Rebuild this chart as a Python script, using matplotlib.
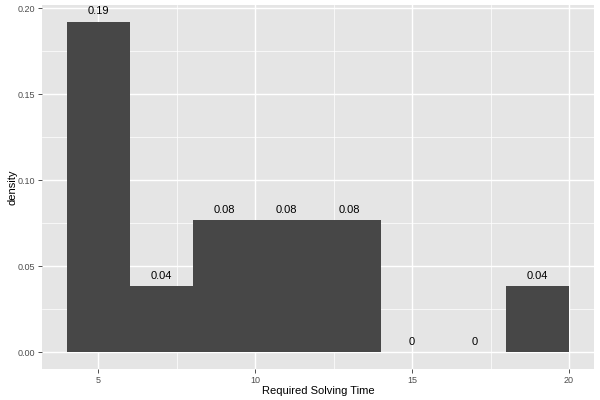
import matplotlib
matplotlib.use("Agg")
import matplotlib.pyplot as plt
import numpy as np

plt.rcParams['font.family'] = ['Liberation Sans', 'DejaVu Sans']

# histogram bins (width 2) and densities
bin_edges = [4, 6, 8, 10, 12, 14, 16, 18, 20]
density = [0.1923, 0.0385, 0.0769, 0.0769, 0.0769, 0.0, 0.0, 0.0385]
labels = ["0.19", "0.04", "0.08", "0.08", "0.08", "0", "0", "0.04"]
xticks = [5, 10, 15, 20]
yticks = [0.00, 0.05, 0.10, 0.15, 0.20]

fig = plt.figure(figsize=(6, 4), dpi=100)
ax = fig.add_axes([0.07, 0.0775, 0.92, 0.91])
ax.set_facecolor('#E5E5E5')

lefts = np.array(bin_edges[:-1])
widths = np.diff(bin_edges)
ax.bar(lefts, density, width=widths, align='edge', color='#474747',
       edgecolor='none', zorder=3)

for x, d, lab in zip(lefts + widths / 2, density, labels):
    ax.annotate(lab, (x, d), xytext=(0, 4), textcoords='offset points',
                ha='center', va='bottom', fontsize=8, color='black', zorder=4)

ax.set_xlim(3.2, 20.8)
ax.set_ylim(-0.0096, 0.2019)
ax.set_xticks(xticks)
ax.set_xticklabels([str(t) for t in xticks])
ax.set_yticks(yticks)
ax.set_yticklabels(["%.2f" % t for t in yticks])
ax.set_xticks([7.5, 12.5, 17.5], minor=True)
ax.set_yticks([0.025, 0.075, 0.125, 0.175], minor=True)

ax.grid(which='major', color='white', linewidth=1.0, zorder=1)
ax.grid(which='minor', color='white', linewidth=0.5, zorder=1)
ax.set_axisbelow(True)
for s in ax.spines.values():
    s.set_visible(False)

ax.tick_params(which='major', length=3, width=0.6, color='#333333',
               labelsize=6.5, labelcolor='#4D4D4D', pad=2)
ax.tick_params(which='minor', length=0)

ax.set_xlabel("Required Solving Time", fontsize=8, labelpad=1)
ax.set_ylabel("density", fontsize=8, labelpad=0)

fig.savefig("out.png", dpi=100)
